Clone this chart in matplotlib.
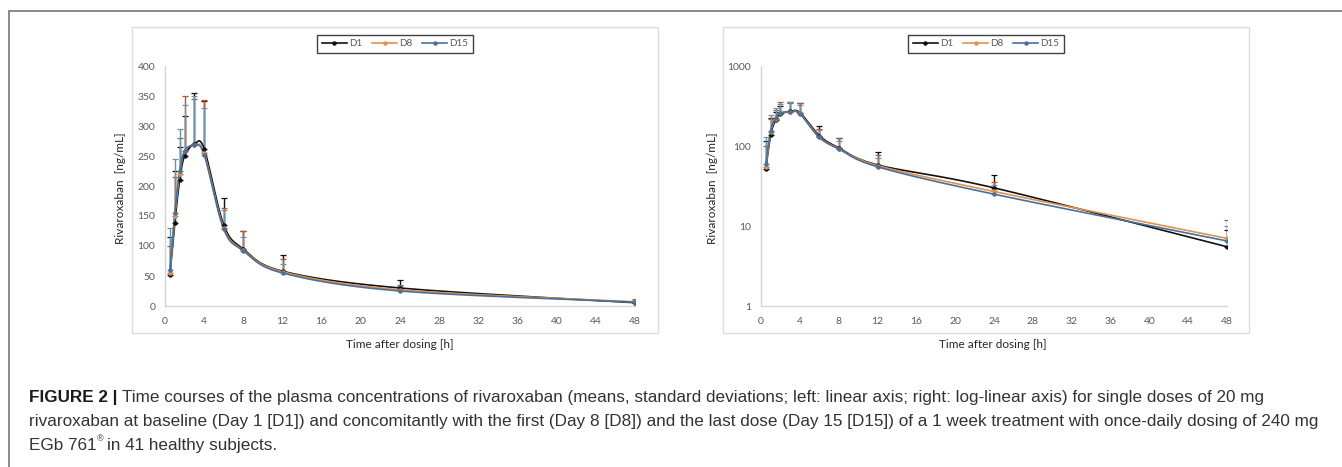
import numpy as np
import matplotlib
matplotlib.use("Agg")
import matplotlib.pyplot as plt
from matplotlib.lines import Line2D
from matplotlib.patches import Rectangle

# time points [h]
hours = [0.5, 1, 1.5, 2, 3, 4, 6, 8, 12, 24, 48]

# mean concentrations [ng/mL]
d1_mean = [52, 138, 210, 250, 270, 262, 135, 95, 58, 30, 5.5]
d8_mean = [55, 150, 220, 258, 268, 255, 130, 93, 57, 27, 7.0]
d15_mean = [60, 155, 225, 258, 268, 252, 128, 92, 55, 25, 6.5]

# standard deviations (upper bars only)
d1_sd = [63, 87, 55, 66, 85, 80, 45, 30, 27, 13, 3.5]
d8_sd = [45, 65, 60, 92, 77, 88, 33, 32, 21, 8, 5]
d15_sd = [70, 90, 70, 77, 82, 78, 32, 23, 15, 8, 3.5]

series = [
    ("D1", d1_mean, d1_sd, "#111111", "#111111"),
    ("D8", d8_mean, d8_sd, "#e0924f", "#b5572e"),
    ("D15", d15_mean, d15_sd, "#4a6f9a", "#6f93a6"),
]

caption_bold = "FIGURE 2 | "
caption_lines = [
    "Time courses of the plasma concentrations of rivaroxaban (means, standard deviations; left: linear axis; right: log-linear axis) for single doses of 20 mg",
    "rivaroxaban at baseline (Day 1 [D1]) and concomitantly with the first (Day 8 [D8]) and the last dose (Day 15 [D15]) of a 1 week treatment with once-daily dosing of 240 mg",
    "EGb 761",
]


def smooth(x, y, sx, sy, n=20):
    # Excel-like smoothed line: cubic bezier through the points in display-like space
    p = np.column_stack([np.asarray(x, float) * sx, np.asarray(y, float) * sy])
    pp = np.vstack([p[0], p, p[-1]])
    t = np.linspace(0, 1, n)[:, None]
    out = []
    for i in range(1, len(pp) - 2):
        a, b = pp[i], pp[i + 1]
        c1 = a + (pp[i + 1] - pp[i - 1]) / 6
        c2 = b - (pp[i + 2] - pp[i]) / 6
        seg = (1 - t) ** 3 * a + 3 * (1 - t) ** 2 * t * c1 + 3 * (1 - t) * t ** 2 * c2 + t ** 3 * b
        out.append(seg)
    out = np.vstack(out)
    return out[:, 0] / sx, out[:, 1] / sy


plt.rcParams['font.family'] = ['Lato', 'DejaVu Sans']
W, H = 1342, 467
fig = plt.figure(figsize=(W / 100, H / 100), dpi=100)

# page frame lines
fig.add_artist(Line2D([9 / W, 1], [1 - 11 / H, 1 - 11 / H], color="#8a8a8a", lw=1.4))
fig.add_artist(Line2D([9 / W, 9 / W], [0, 1 - 11 / H], color="#8a8a8a", lw=1.4))

# chart area boxes
for bx in (132, 723):
    fig.add_artist(Rectangle((bx / W, 1 - 333 / H), 526 / W, 306 / H, transform=fig.transFigure,
                             fill=False, ec="#dcdcdc", lw=1.0))

ax1 = fig.add_axes([165 / W, 1 - 306 / H, 470 / W, 240 / H])
ax2 = fig.add_axes([761 / W, 1 - 306 / H, 466 / W, 240 / H])

for ax, logy in ((ax1, False), (ax2, True)):
    for name, mean, sd, col, ecol in series:
        if logy:
            sx, sy = 466 / 48, 80
            xs, ly = smooth(hours, np.log10(mean), sx, sy)
            ys = 10 ** ly
        else:
            sx, sy = 470 / 48, 240 / 400
            xs, ys = smooth(hours, mean, sx, sy)
        ax.plot(xs, ys, color=col, lw=1.2, zorder=3)
        ax.plot(hours, mean, ls="none", marker="o", ms=2.2, color=col, zorder=4)
        ax.errorbar(hours, mean, yerr=[np.zeros(len(sd)), sd], fmt="none", ecolor=ecol,
                    elinewidth=1.0, capsize=2.5, capthick=0.9, zorder=2)
    ax.set_xlim(0, 48)
    ax.set_xticks(np.arange(0, 49, 4))
    if logy:
        ax.set_yscale("log")
        ax.set_ylim(1, 1000)
        ax.set_yticks([1, 10, 100, 1000])
        ax.set_yticklabels(["1", "10", "100", "1000"])
        ax.minorticks_off()
    else:
        ax.set_ylim(0, 400)
        ax.set_yticks(np.arange(0, 401, 50))
    for s in ("top", "right"):
        ax.spines[s].set_visible(False)
    for s in ("left", "bottom"):
        ax.spines[s].set_color("#d4d4d4")
        ax.spines[s].set_linewidth(1.0)
    ax.tick_params(length=0, labelsize=7.5, labelcolor="#595959")
    ax.tick_params(axis="y", pad=7)
    ax.tick_params(axis="x", pad=8)
    ax.patch.set_alpha(0)

    handles = [Line2D([], [], color=c, lw=1.2, marker="o", ms=2.2) for _, _, _, c, _ in series]
    cx = (395 if ax is ax1 else 986) / W
    leg = ax.legend(handles, [s[0] for s in series], loc="center", bbox_to_anchor=(cx, 1 - 44 / H),
                    bbox_transform=fig.transFigure, ncol=3, fontsize=7, frameon=True, fancybox=False,
                    handlelength=2.6, handletextpad=0.2, columnspacing=1.0, borderpad=0.5)
    leg.get_frame().set_edgecolor("#111111")
    leg.get_frame().set_linewidth(1.0)
    for t in leg.get_texts():
        t.set_color("#595959")

for x0, x1 in ((121, 400), (712, 993)):
    fig.text(x0 / W, 1 - 188 / H, "Rivaroxaban  [ng/mL]", rotation=90, ha="center", va="center",
             fontsize=8.5, color="#262626")
    fig.text(x1 / W, 1 - 345 / H, "Time after dosing [h]", ha="center", va="center",
             fontsize=8.5, color="#262626")

# caption
cap_font = ['Liberation Sans', 'DejaVu Sans']
cap_size = 12.3
base = [402, 426, 450]
t = fig.text(29 / W, 1 - base[0] / H, caption_bold, fontsize=cap_size, weight="bold", family=cap_font,
             va="baseline", color="#1a1a1a")
fig.canvas.draw()
bb = t.get_window_extent()
fig.text(bb.x1 / W, 1 - base[0] / H, caption_lines[0], fontsize=cap_size, family=cap_font,
         va="baseline", color="#333333")
fig.text(29 / W, 1 - base[1] / H, caption_lines[1], fontsize=cap_size, family=cap_font,
         va="baseline", color="#333333")
t3 = fig.text(29 / W, 1 - base[2] / H, caption_lines[2], fontsize=cap_size, family=cap_font,
              va="baseline", color="#333333")
fig.canvas.draw()
b3 = t3.get_window_extent()
fig.text(b3.x1 / W, 1 - (base[2] - 9) / H, "\u00ae", fontsize=6.5, family=cap_font, va="baseline",
         color="#333333")
fig.text(b3.x1 / W + 10 / W, 1 - base[2] / H, "in 41 healthy subjects.", fontsize=cap_size,
         family=cap_font, va="baseline", color="#333333")

fig.savefig("out.png", dpi=100)
